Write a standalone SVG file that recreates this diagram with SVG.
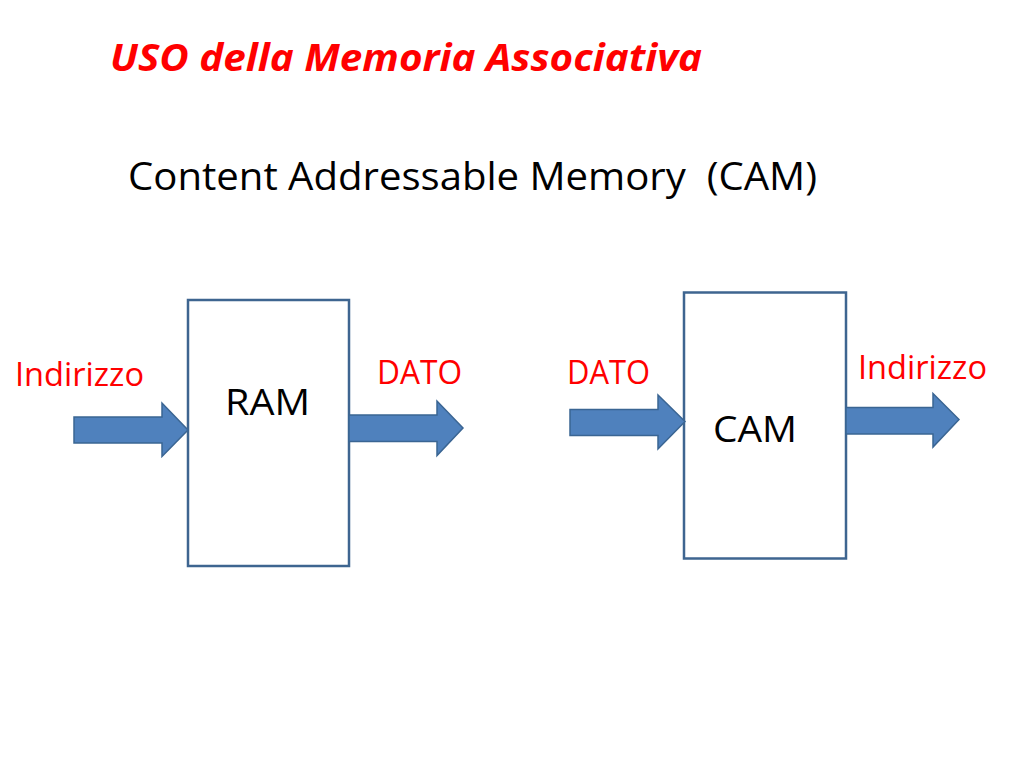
<svg xmlns="http://www.w3.org/2000/svg" width="1024" height="768" viewBox="0 0 1024 768">
<style>
.bg{fill:#ffffff}
.box{fill:#ffffff;stroke:#3e6590;stroke-width:2.5}
.arrow{fill:#4f81bd;stroke:#3a6593;stroke-width:1.5;stroke-linejoin:miter}
.lbl{font-family:"Open Sans","Noto Sans",sans-serif;fill:#ff0000}
.blk{font-family:"Open Sans","Noto Sans",sans-serif;fill:#000000}
.title{font-family:"Open Sans","Noto Sans",sans-serif;font-weight:bold;font-style:italic;fill:#ff0000}
</style>
<rect class="bg" x="0" y="0" width="1024" height="768"/>
<text class="title" x="110" y="71" font-size="38" textLength="592" lengthAdjust="spacingAndGlyphs">USO della Memoria Associativa</text>
<text class="blk" x="128" y="190" font-size="38.5" textLength="689" lengthAdjust="spacingAndGlyphs" xml:space="preserve">Content Addressable Memory  (CAM)</text>
<g id="ram">
<rect class="box" x="188" y="300" width="161" height="266"/>
<text class="blk" x="225" y="415" font-size="37" textLength="85" lengthAdjust="spacingAndGlyphs">RAM</text>
</g>
<g id="cam">
<rect class="box" x="684" y="292.5" width="162" height="266"/>
<text class="blk" x="713" y="441.5" font-size="37" textLength="84" lengthAdjust="spacingAndGlyphs">CAM</text>
</g>
<g id="connectors">
<path class="arrow" d="M74,417 H162 V403 L188,430 L162,456.5 V443 H74 Z"/>
<path class="arrow" d="M349,415 H437 V401 L463,428 L437,455.5 V441.5 H349 Z"/>
<path class="arrow" d="M570,409.5 H658 V395 L685,421.5 L658,449 V435.5 H570 Z"/>
<path class="arrow" d="M846,407.5 H933 V393.5 L959,419.5 L933,447 V434 H846 Z"/>
</g>
<g id="labels">
<text class="lbl" x="15" y="386" font-size="32.5" textLength="129" lengthAdjust="spacingAndGlyphs">Indirizzo</text>
<text class="lbl" x="377" y="384" font-size="33.5" textLength="85" lengthAdjust="spacingAndGlyphs">DATO</text>
<text class="lbl" x="567" y="384" font-size="33.5" textLength="83" lengthAdjust="spacingAndGlyphs">DATO</text>
<text class="lbl" x="858" y="378.5" font-size="32.5" textLength="129" lengthAdjust="spacingAndGlyphs">Indirizzo</text>
</g>
</svg>
